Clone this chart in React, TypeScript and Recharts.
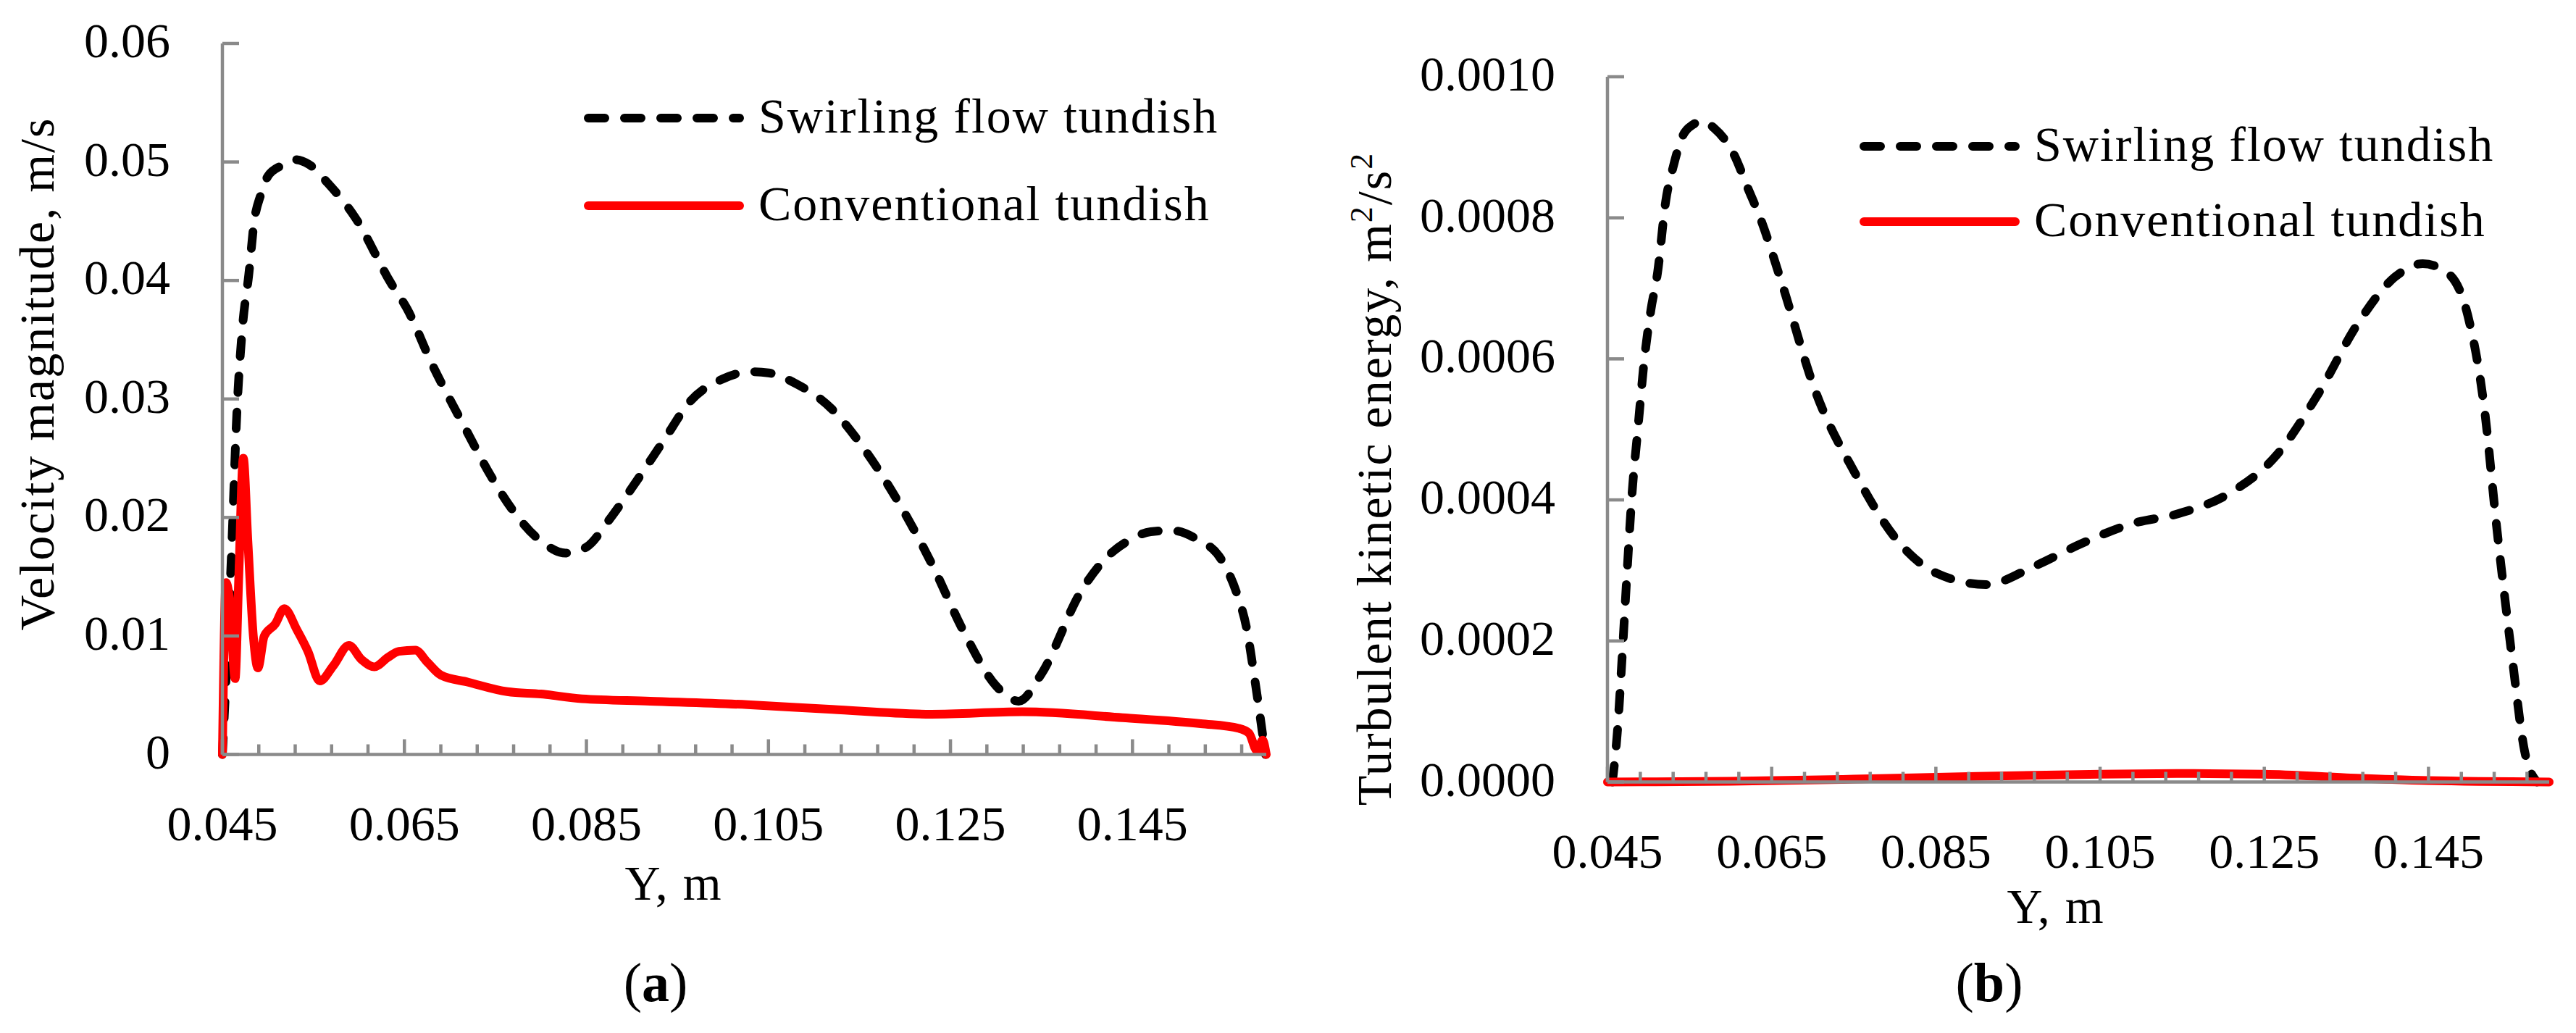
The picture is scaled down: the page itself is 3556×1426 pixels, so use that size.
import React from "react";
import { Legend, Line, LineChart, XAxis, YAxis } from "recharts";

// x positions along the tundish (Y, m)
const X_TICKS = [
  0.045, 0.049, 0.053, 0.057, 0.061, 0.065, 0.069, 0.073, 0.077, 0.081, 0.085, 0.089, 0.093, 0.097,
  0.101, 0.105, 0.109, 0.113, 0.117, 0.121, 0.125, 0.129, 0.133, 0.137, 0.141, 0.145, 0.149, 0.153,
  0.157
];
const X_LABELS = ["0.045", "0.065", "0.085", "0.105", "0.125", "0.145"];

const VEL_TICKS = [0, 0.01, 0.02, 0.03, 0.04, 0.05, 0.06];
const VEL_LABELS = ["0", "0.01", "0.02", "0.03", "0.04", "0.05", "0.06"];
const TKE_TICKS = [0, 0.0002, 0.0004, 0.0006, 0.0008, 0.001];
const TKE_LABELS = ["0.0000", "0.0002", "0.0004", "0.0006", "0.0008", "0.0010"];

// (a) velocity magnitude, swirling flow tundish
const VEL_SWIRL_X = [
  0.045, 0.0455, 0.046, 0.0466, 0.0472, 0.0479, 0.0485, 0.0492, 0.05, 0.0515, 0.053, 0.0545, 0.0566,
  0.0596, 0.0635, 0.0653, 0.068, 0.0717, 0.0745, 0.0772, 0.08, 0.0827, 0.085, 0.0875, 0.09, 0.0935,
  0.0964, 0.1, 0.103, 0.105, 0.108, 0.1119, 0.1155, 0.1192, 0.123, 0.1265, 0.13, 0.1325, 0.135,
  0.1393, 0.142, 0.1447, 0.147, 0.1493, 0.152, 0.1548, 0.1565, 0.1575, 0.1585, 0.1596
];
const VEL_SWIRL_V = [
  0, 0.008, 0.017, 0.029, 0.036, 0.0405, 0.045, 0.0472, 0.0488, 0.0497, 0.0502, 0.0498, 0.0482,
  0.0453, 0.0398, 0.0376, 0.033, 0.0275, 0.0235, 0.0203, 0.018, 0.017, 0.0175, 0.0198, 0.0225,
  0.0265, 0.0298, 0.0317, 0.0323, 0.0322, 0.0313, 0.0292, 0.0258, 0.0214, 0.016, 0.0103, 0.0058,
  0.0045, 0.0068, 0.0137, 0.0165, 0.0181, 0.0188, 0.0189, 0.0182, 0.0164, 0.0135, 0.0108, 0.006, 0
];

// (a) velocity magnitude, conventional tundish
const VEL_CONV_X = [
  0.045, 0.0454, 0.0458, 0.0464, 0.0468, 0.0473, 0.0478, 0.0484, 0.0489, 0.0496, 0.0508, 0.0518,
  0.0532, 0.0544, 0.0557, 0.0572, 0.0589, 0.0603, 0.0617, 0.0632, 0.0644, 0.0662, 0.0675, 0.069,
  0.072, 0.0763, 0.08, 0.0845, 0.092, 0.1027, 0.112, 0.1229, 0.1329, 0.1439, 0.1525, 0.1567, 0.1578,
  0.1587, 0.1593, 0.1597
];
const VEL_CONV_V = [
  0, 0.0145, 0.013, 0.0064, 0.015, 0.025, 0.018, 0.01, 0.0073, 0.01, 0.011, 0.0123, 0.0105, 0.0087,
  0.0062, 0.0075, 0.0092, 0.008, 0.0074, 0.0082, 0.0087, 0.0088, 0.0078, 0.0067, 0.0061, 0.0053,
  0.0051, 0.0047, 0.0045, 0.0042, 0.0038, 0.0034, 0.0036, 0.0031, 0.0026, 0.0022, 0.0018, 0.0003,
  0.0012, 0
];

// (b) turbulent kinetic energy, swirling flow tundish
const TKE_SWIRL_X = [
  0.0456, 0.0462, 0.0468, 0.0474, 0.048, 0.0487, 0.0495, 0.0503, 0.0511, 0.0521, 0.053, 0.0542,
  0.0554, 0.0566, 0.058, 0.0604, 0.0621, 0.0636, 0.0663, 0.0703, 0.0752, 0.0802, 0.0851, 0.0911,
  0.097, 0.1029, 0.1088, 0.1147, 0.1207, 0.1266, 0.1315, 0.1365, 0.1409, 0.1443, 0.1473, 0.1498,
  0.1518, 0.1533, 0.1552, 0.1567, 0.1582
];
const TKE_SWIRL_K = [
  0, 0.00007, 0.00018, 0.0003, 0.00041, 0.0005, 0.0006, 0.00067, 0.000722, 0.000824, 0.000872,
  0.000917, 0.000932, 0.000937, 0.000927, 0.00089, 0.000842, 0.0008, 0.000705, 0.000555, 0.000437,
  0.000344, 0.000296, 0.00028, 0.000306, 0.000339, 0.000366, 0.000381, 0.000409, 0.000465, 0.000549,
  0.000652, 0.000716, 0.000735, 0.000722, 0.000661, 0.00053, 0.000362, 0.000175, 0.000044, 0
];

// (b) turbulent kinetic energy, conventional tundish
const TKE_CONV_X = [0.045, 0.06, 0.075, 0.09, 0.105, 0.115, 0.125, 0.135, 0.145, 0.1597];
const TKE_CONV_K = [0, 0.000001, 0.000004, 0.000008, 0.000011, 0.000012, 0.000011, 0.000006, 0.000002, 0];

const FONT = "'Liberation Serif', 'Times New Roman', serif";
const AXIS = "#8a8a8a";
const DASH = "23 27";

const zip = (xs: number[], ys: number[]) => xs.map((x, i) => ({ x, v: ys[i] }));

const velSwirl = zip(VEL_SWIRL_X, VEL_SWIRL_V);
const velConv = zip(VEL_CONV_X, VEL_CONV_V);
const tkeSwirl = zip(TKE_SWIRL_X, TKE_SWIRL_K);
const tkeConv = zip(TKE_CONV_X, TKE_CONV_K);

function XTick(props: any) {
  const { x, y, index } = props;
  const major = index % 5 === 0;
  return (
    <g>
      <line x1={x} x2={x} y1={y} y2={y - (major ? 21 : 14)} stroke={AXIS} strokeWidth={4.5} />
      {major ? (
        <text x={x} y={y + 118} textAnchor="middle" fontSize={68} fontFamily={FONT} fill="#000">
          {X_LABELS[index / 5]}
        </text>
      ) : null}
    </g>
  );
}

function makeYTick(labels: string[]) {
  return (props: any) => {
    const { x, y, index } = props;
    return (
      <g>
        <line x1={x} x2={x + 23} y1={y} y2={y} stroke={AXIS} strokeWidth={4.5} />
        <text x={x - 72} y={y + 19} textAnchor="end" fontSize={68} fontFamily={FONT} fill="#000">
          {labels[index]}
        </text>
      </g>
    );
  };
}

function makeLegend(rowGap: number) {
  return () => (
    <svg width={900} height={220} style={{ display: "block" }}>
      <line x1={6} x2={215} y1={40} y2={40} stroke="#000" strokeWidth={12} strokeDasharray={DASH} strokeLinecap="round" />
      <text x={241} y={60} fontSize={68} fontFamily={FONT} letterSpacing={2}>
        Swirling flow tundish
      </text>
      <line x1={6} x2={215} y1={40 + rowGap} y2={40 + rowGap} stroke="#ff0000" strokeWidth={12} strokeLinecap="round" />
      <text x={241} y={60 + rowGap} fontSize={68} fontFamily={FONT} letterSpacing={2}>
        Conventional tundish
      </text>
    </svg>
  );
}

export default function App() {
  return (
    <div
      style={{
        position: "absolute",
        left: 0,
        top: 0,
        width: 3556,
        height: 1426,
        background: "#fff",
        fontFamily: FONT
      }}
    >
      <div style={{ position: "absolute", left: 0, top: 0 }}>
        <LineChart width={1800} height={1426} margin={{ top: 60, right: 52, bottom: 383.5, left: 0 }}>
          <XAxis
            dataKey="x"
            type="number"
            domain={[0.045, 0.1597]}
            ticks={X_TICKS}
            interval={0}
            height={1}
            tickSize={0}
            tickMargin={0}
            tickLine={false}
            axisLine={{ stroke: AXIS, strokeWidth: 4.5 }}
            tick={XTick}
          />
          <YAxis
            type="number"
            domain={[0, 0.06]}
            ticks={VEL_TICKS}
            interval={0}
            width={307}
            tickSize={0}
            tickMargin={0}
            tickLine={false}
            axisLine={{ stroke: AXIS, strokeWidth: 4.5 }}
            tick={makeYTick(VEL_LABELS)}
          />
          <Legend
            layout="vertical"
            align="center"
            verticalAlign="middle"
            wrapperStyle={{ left: 806, top: 123, width: 900, height: 220 }}
            content={makeLegend(121)}
          />
          <Line
            data={velSwirl}
            dataKey="v"
            type="monotone"
            stroke="#000"
            strokeWidth={12}
            strokeDasharray={DASH}
            strokeLinecap="round"
            dot={false}
            isAnimationActive={false}
          />
          <Line
            data={velConv}
            dataKey="v"
            type="monotone"
            stroke="#ff0000"
            strokeWidth={12}
            strokeLinecap="round"
            strokeLinejoin="round"
            dot={false}
            isAnimationActive={false}
          />
        </LineChart>
      </div>
      <div style={{ position: "absolute", left: 1800, top: 0 }}>
        <LineChart width={1756} height={1426} margin={{ top: 106, right: 37, bottom: 345.5, left: 0 }}>
          <XAxis
            dataKey="x"
            type="number"
            domain={[0.045, 0.1597]}
            ticks={X_TICKS}
            interval={0}
            height={1}
            tickSize={0}
            tickMargin={0}
            tickLine={false}
            axisLine={{ stroke: AXIS, strokeWidth: 4.5 }}
            tick={XTick}
          />
          <YAxis
            type="number"
            domain={[0, 0.001]}
            ticks={TKE_TICKS}
            interval={0}
            width={419}
            tickSize={0}
            tickMargin={0}
            tickLine={false}
            axisLine={{ stroke: AXIS, strokeWidth: 4.5 }}
            tick={makeYTick(TKE_LABELS)}
          />
          <Legend
            layout="vertical"
            align="center"
            verticalAlign="middle"
            wrapperStyle={{ left: 767, top: 162, width: 900, height: 220 }}
            content={makeLegend(104)}
          />
          <Line
            data={tkeSwirl}
            dataKey="v"
            type="monotone"
            stroke="#000"
            strokeWidth={12}
            strokeDasharray={DASH}
            strokeLinecap="round"
            dot={false}
            isAnimationActive={false}
          />
          <Line
            data={tkeConv}
            dataKey="v"
            type="monotone"
            stroke="#ff0000"
            strokeWidth={12}
            strokeLinecap="round"
            strokeLinejoin="round"
            dot={false}
            isAnimationActive={false}
          />
        </LineChart>
      </div>
      <svg
        width={3556}
        height={1426}
        style={{ position: "absolute", left: 0, top: 0, pointerEvents: "none" }}
      >
        <text
          x={74}
          y={516}
          transform="rotate(-90 74 516)"
          textAnchor="middle"
          fontSize={68}
          fontFamily={FONT}
          letterSpacing={2}
        >
          Velocity magnitude, m/s
        </text>
        <text
          x={1920}
          y={661}
          transform="rotate(-90 1920 661)"
          textAnchor="middle"
          fontSize={68}
          fontFamily={FONT}
          letterSpacing={2}
        >
          Turbulent kinetic energy, m
          <tspan fontSize={44} dy={-26}>2</tspan>
          <tspan dy={26}>/s</tspan>
          <tspan fontSize={44} dy={-26}>2</tspan>
        </text>
        <text x={930} y={1242} textAnchor="middle" fontSize={68} fontFamily={FONT} letterSpacing={2}>
          Y, m
        </text>
        <text x={2838} y={1274} textAnchor="middle" fontSize={68} fontFamily={FONT} letterSpacing={2}>
          Y, m
        </text>
        <text x={905} y={1382} textAnchor="middle" fontSize={76} fontFamily={FONT}>
          (<tspan fontWeight="bold">a</tspan>)
        </text>
        <text x={2746} y={1382} textAnchor="middle" fontSize={76} fontFamily={FONT}>
          (<tspan fontWeight="bold">b</tspan>)
        </text>
      </svg>
    </div>
  );
}
